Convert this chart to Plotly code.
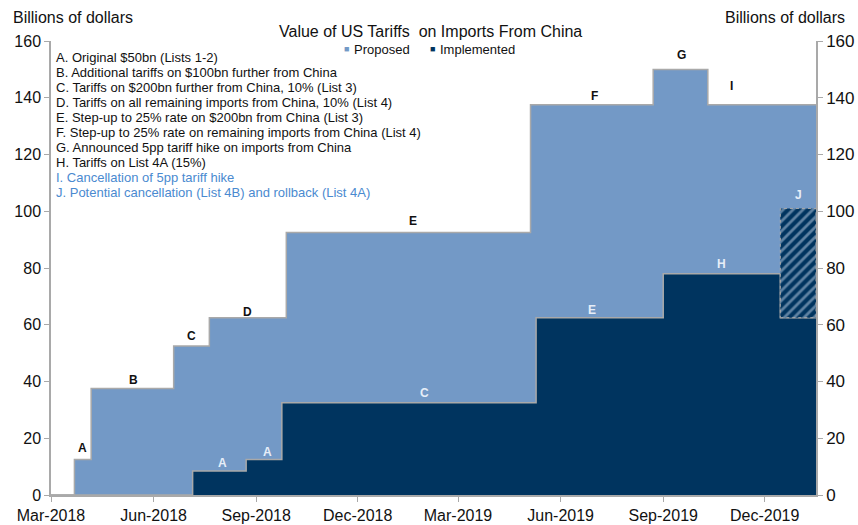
import plotly.graph_objects as go

# ---------------- data ----------------
proposed_dates = ["2018-03-01", "2018-03-22", "2018-04-06", "2018-06-19", "2018-07-21",
                  "2018-09-28", "2019-05-05", "2019-08-23", "2019-10-11", "2020-01-16"]
proposed_values = [0, 12.5, 37.5, 52.5, 62.5, 92.5, 137.5, 150, 137.5, 137.5]

implemented_dates = ["2018-03-01", "2018-07-06", "2018-08-23", "2018-09-24", "2019-05-10",
                     "2019-09-01", "2019-12-15", "2020-01-16"]
implemented_values = [0, 8.5, 12.5, 32.5, 62.5, 78, 62.5, 62.5]

hatch_start, hatch_end = "2019-12-15", "2020-01-16"
hatch_low, hatch_high = 62.5, 101

# step labels (black = proposed, light = implemented / potential)
dark_labels = ["A", "B", "C", "D", "E", "F", "G", "I"]
dark_label_dates = ["2018-03-29", "2018-05-14", "2018-07-05", "2018-08-24",
                    "2019-01-20", "2019-07-01", "2019-09-17", "2019-11-01"]
dark_label_vals = [16.6, 40.6, 56.1, 64.6, 96.4, 140.5, 155, 144]

light_labels = ["A", "A", "C", "E", "H", "J"]
light_label_dates = ["2018-08-02", "2018-09-11", "2019-01-30", "2019-06-29",
                     "2019-10-23", "2019-12-31"]
light_label_vals = [11.4, 15.3, 36.1, 65.3, 81.4, 105.9]

notes = [
    "A. Original $50bn (Lists 1-2)",
    "B. Additional tariffs on $100bn further from China",
    "C. Tariffs on $200bn further from China, 10% (List 3)",
    "D. Tariffs on all remaining imports from China, 10% (List 4)",
    "E. Step-up to 25% rate on $200bn from China (List 3)",
    "F. Step-up to 25% rate on remaining imports from China (List 4)",
    "G. Announced 5pp tariff hike on imports from China",
    "H. Tariffs on List 4A (15%)",
    "I. Cancellation of 5pp tariff hike",
    "J. Potential cancellation (List 4B) and rollback (List 4A)",
]
note_blue = [False] * 8 + [True, True]

x_tick_vals = ["2018-03-01", "2018-06-01", "2018-09-01", "2018-12-01",
               "2019-03-01", "2019-06-01", "2019-09-01", "2019-12-01"]
x_tick_text = ["Mar-2018", "Jun-2018", "Sep-2018", "Dec-2018",
               "Mar-2019", "Jun-2019", "Sep-2019", "Dec-2019"]
y_ticks = [0, 20, 40, 60, 80, 100, 120, 140, 160]

# ---------------- style ----------------
LIGHT = "#7399c6"
DARK = "#00345f"
OUTLINE = "#a9a9a9"
FONT = "Liberation Sans, Arial, sans-serif"
W, H = 858, 525
L, R, T, B = 51, 42, 41, 30


def pxx(p):
    return (p - L) / (W - L - R)


def pxy(p):
    return (H - B - p) / (H - T - B)


fig = go.Figure()

fig.add_trace(go.Scatter(
    x=proposed_dates, y=proposed_values, mode="lines", line_shape="hv",
    line=dict(color=OUTLINE, width=1.5), fill="tozeroy", fillcolor=LIGHT,
    showlegend=False, hoverinfo="skip"))

fig.add_trace(go.Scatter(
    x=implemented_dates, y=implemented_values, mode="lines", line_shape="hv",
    line=dict(color=OUTLINE, width=1.5), fill="tozeroy", fillcolor=DARK,
    showlegend=False, hoverinfo="skip"))

fig.add_trace(go.Scatter(
    x=[hatch_start, hatch_end, hatch_end, hatch_start, hatch_start],
    y=[hatch_low, hatch_low, hatch_high, hatch_high, hatch_low],
    mode="lines", line=dict(color=OUTLINE, width=1, dash="dot"),
    fill="toself", fillcolor=DARK,
    fillpattern=dict(shape="/", bgcolor=DARK, fgcolor="#bfd1e8", size=7, solidity=0.4),
    showlegend=False, hoverinfo="skip"))

# invisible trace to activate right axis
fig.add_trace(go.Scatter(x=[proposed_dates[0]], y=[0], yaxis="y2", mode="markers",
                         marker=dict(opacity=0), showlegend=False, hoverinfo="skip"))

ann = []
for t, d, v in zip(dark_labels, dark_label_dates, dark_label_vals):
    ann.append(dict(x=d, y=v, xref="x", yref="y", text="<b>%s</b>" % t, showarrow=False,
                    font=dict(family=FONT, size=12, color="#111111")))
for t, d, v in zip(light_labels, light_label_dates, light_label_vals):
    ann.append(dict(x=d, y=v, xref="x", yref="y", text="<b>%s</b>" % t, showarrow=False,
                    font=dict(family=FONT, size=12, color="#e6eef8")))

for i, (txt, blue) in enumerate(zip(notes, note_blue)):
    ann.append(dict(x=pxx(54), y=pxy(57 + 15.1 * i), xref="paper", yref="paper",
                    xanchor="left", yanchor="middle", text=txt, showarrow=False,
                    font=dict(family=FONT, size=13, color="#4a8ad0" if blue else "#111111")))

ann.append(dict(x=pxx(430), y=pxy(32), xref="paper", yref="paper", xanchor="center",
                yanchor="middle", text="Value of US Tariffs  on Imports From China",
                showarrow=False, font=dict(family=FONT, size=16, color="#111111")))
ann.append(dict(x=pxx(11), y=pxy(17), xref="paper", yref="paper", xanchor="left",
                yanchor="middle", text="Billions of dollars", showarrow=False,
                font=dict(family=FONT, size=16, color="#111111")))
ann.append(dict(x=pxx(847), y=pxy(17), xref="paper", yref="paper", xanchor="right",
                yanchor="middle", text="Billions of dollars", showarrow=False,
                font=dict(family=FONT, size=16, color="#111111")))

# legend
ann.append(dict(x=pxx(342), y=pxy(49), xref="paper", yref="paper", xanchor="left",
                yanchor="middle", text="■", showarrow=False,
                font=dict(family=FONT, size=9, color=LIGHT)))
ann.append(dict(x=pxx(352), y=pxy(49), xref="paper", yref="paper", xanchor="left",
                yanchor="middle", text="Proposed", showarrow=False,
                font=dict(family=FONT, size=13, color="#111111")))
ann.append(dict(x=pxx(428), y=pxy(49), xref="paper", yref="paper", xanchor="left",
                yanchor="middle", text="■", showarrow=False,
                font=dict(family=FONT, size=9, color=DARK)))
ann.append(dict(x=pxx(438), y=pxy(49), xref="paper", yref="paper", xanchor="left",
                yanchor="middle", text="Implemented", showarrow=False,
                font=dict(family=FONT, size=13, color="#111111")))

axis_common = dict(ticks="outside", ticklen=5, tickcolor=OUTLINE, showline=True,
                   linecolor=OUTLINE, linewidth=1.5, showgrid=False, zeroline=False,
                   automargin=False)

fig.update_layout(
    width=W, height=H, autosize=False,
    margin=dict(l=L, r=R, t=T, b=B, pad=0, autoexpand=False),
    paper_bgcolor="white", plot_bgcolor="white",
    font=dict(family=FONT, color="#111111"),
    showlegend=False,
    annotations=ann,
    xaxis=dict(type="date", range=[proposed_dates[0], proposed_dates[-1]],
               tickvals=x_tick_vals, ticktext=x_tick_text,
               tickfont=dict(size=16, color="#111111"), **axis_common),
    yaxis=dict(range=[0, 160], tickvals=y_ticks,
               tickfont=dict(size=16, color="#111111"), **axis_common),
    yaxis2=dict(range=[0, 160], tickvals=y_ticks, overlaying="y", side="right",
                tickfont=dict(size=17, color="#111111"), **axis_common),
)

fig.write_html("out.html", config={"responsive": False, "displayModeBar": False},
               post_script="document.body.style.margin='0';document.body.style.overflow='hidden';")
